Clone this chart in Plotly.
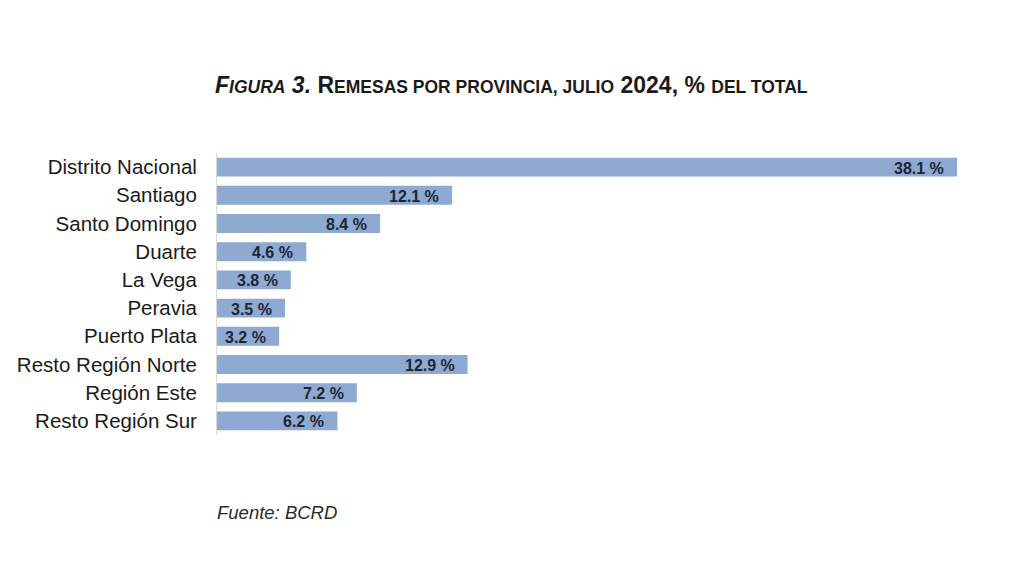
import plotly.graph_objects as go

categories = ["Distrito Nacional", "Santiago", "Santo Domingo", "Duarte", "La Vega",
              "Peravia", "Puerto Plata", "Resto Región Norte", "Región Este", "Resto Región Sur"]
values = [38.1, 12.1, 8.4, 4.6, 3.8, 3.5, 3.2, 12.9, 7.2, 6.2]
value_labels = [f"{v:.1f} %" for v in values]

BAR = "#8EA9D2"
FONT = "Liberation Sans, Arial, sans-serif"

L, R, T, B = 217, 30, 153, 141
PW, PH = 1024 - L - R, 576 - T - B

fig = go.Figure(go.Bar(
    x=values, y=categories, orientation="h",
    marker=dict(color=BAR, line=dict(width=0)),
    hoverinfo="skip",
))

annotations = []
for c, v, t in zip(categories, values, value_labels):
    annotations.append(dict(x=v, y=c, xref="x", yref="y", text=f"<b>{t}</b>",
                            showarrow=False, xanchor="right", yanchor="middle",
                            xshift=-11, yshift=-1,
                            font=dict(family=FONT, size=16, color="#1e2633")))

sc = "font-size:17.5px"
title = (f"<b><i>F<span style='{sc}'>IGURA</span> 3.</i> R<span style='{sc}'>EMESAS POR PROVINCIA, JULIO</span>"
         f" 2024, % <span style='{sc}'>DEL TOTAL</span></b>")
annotations.append(dict(text=title, showarrow=False, xref="paper", yref="paper",
                        x=(511 - L) / PW, y=1 + (T - 85) / PH,
                        xanchor="center", yanchor="middle",
                        font=dict(family=FONT, size=23, color="#1a1a1a")))
annotations.append(dict(text="<i>Fuente: BCRD</i>", showarrow=False, xref="paper", yref="paper",
                        x=-2 / PW, y=-(512 - (576 - B)) / PH, xanchor="left", yanchor="middle",
                        font=dict(family=FONT, size=18.5, color="#2a2a2a")))

fig.update_layout(
    width=1024, height=576,
    margin=dict(l=L, r=R, t=T, b=B),
    paper_bgcolor="white", plot_bgcolor="white",
    bargap=0.33, showlegend=False,
    font=dict(family=FONT, color="#1a1a1a"),
    xaxis=dict(range=[0, 40], visible=False, fixedrange=True),
    yaxis=dict(autorange="reversed", showline=True, linecolor="#d9d9d9", linewidth=1,
               ticks="", showgrid=False, ticklabelstandoff=15,
               tickfont=dict(family=FONT, size=20.5, color="#1a1a1a"), fixedrange=True),
    annotations=annotations,
)

fig.write_html("out.html", config={"displayModeBar": False})
